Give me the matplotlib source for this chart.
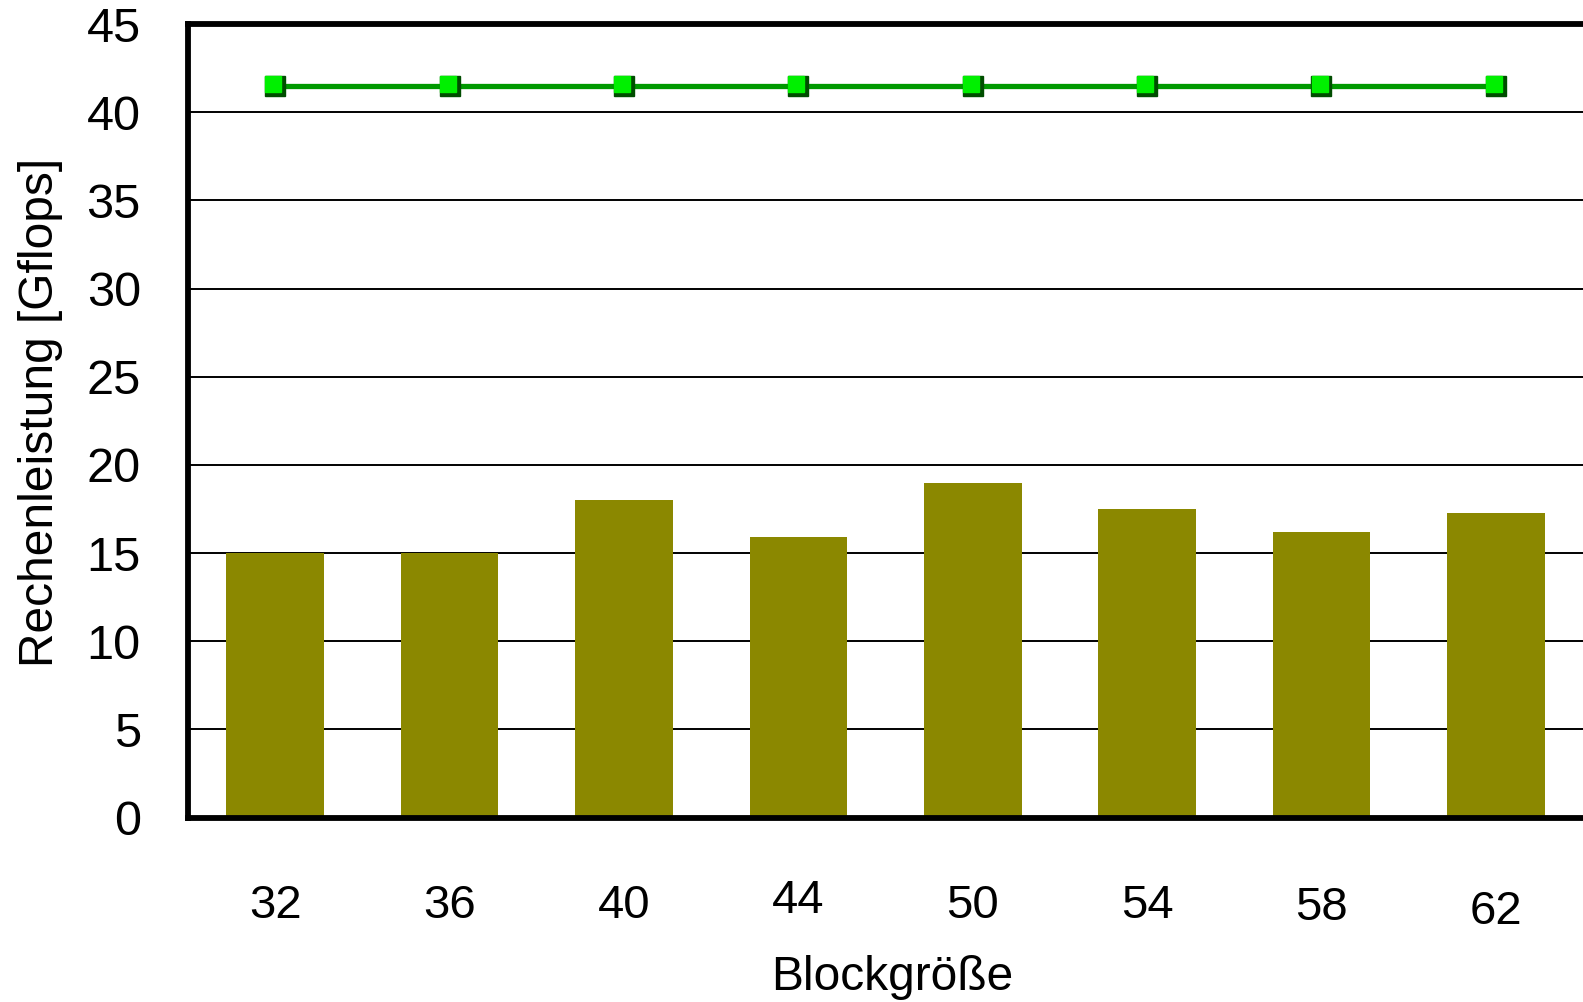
import matplotlib
matplotlib.use("Agg")
import matplotlib.pyplot as plt
from matplotlib.transforms import ScaledTranslation
import numpy as np

block_sizes = ["32", "36", "40", "44", "50", "54", "58", "62"]
measured_gflops = [15.0, 15.0, 18.0, 15.9, 19.0, 17.5, 16.2, 17.3]
peak_gflops = [41.5, 41.5, 41.5, 41.5, 41.5, 41.5, 41.5, 41.5]

plt.rcParams["font.family"] = ["Liberation Sans", "DejaVu Sans"]

fig = plt.figure(figsize=(15.83, 10.02), dpi=100)
ax = fig.add_axes([0.1188, 0.184, 0.8812, 0.792])

x = np.arange(len(block_sizes))

# horizontal grid behind the bars
ax.set_axisbelow(True)
ax.yaxis.grid(True, color="black", linewidth=1.4)

ax.bar(x, measured_gflops, width=0.56, color="#8b8800", zorder=2)

ax.plot(x, peak_gflops, color="#009900", linewidth=3.8, zorder=3)
# two layered squares to fake the shaded marker
ax.plot(x, peak_gflops, linestyle="none", marker="s", markersize=14,
        markerfacecolor="#004d00", markeredgecolor="#004d00", zorder=4)
ax.plot(x, peak_gflops, linestyle="none", marker="s", markersize=11,
        markerfacecolor="#00f000", markeredgecolor="#00f000", zorder=5,
        transform=ax.transData + ScaledTranslation(-1.4 / 72, 1.4 / 72, fig.dpi_scale_trans))

ax.set_xlim(-0.5, 7.5)
ax.set_ylim(0, 45)
ax.set_yticks(np.arange(0, 46, 5))
ax.set_xticks(x)
ax.set_xticklabels(block_sizes)

ax.tick_params(axis="y", length=0, pad=34, labelsize=35)
ax.tick_params(axis="x", length=0, pad=48, labelsize=34)

# the labels in the original sit slightly uneven
label_shift = {"44": 4, "58": -1, "62": -4}
for lab in ax.get_xticklabels():
    dy = label_shift.get(lab.get_text(), 0)
    if dy:
        lab.set_transform(lab.get_transform() + ScaledTranslation(0, dy / 72, fig.dpi_scale_trans))

for side in ["left", "top", "bottom"]:
    ax.spines[side].set_linewidth(4.2)
    ax.spines[side].set_color("black")
ax.spines["right"].set_visible(False)

ax.set_xlabel("Blockgröße", fontsize=34.5)
ax.xaxis.set_label_coords(0.505, -0.173)
ax.set_ylabel("Rechenleistung [Gflops]", fontsize=34.5)
ax.yaxis.set_label_coords(-0.090, 0.51)

fig.savefig("out.png", dpi=100)
